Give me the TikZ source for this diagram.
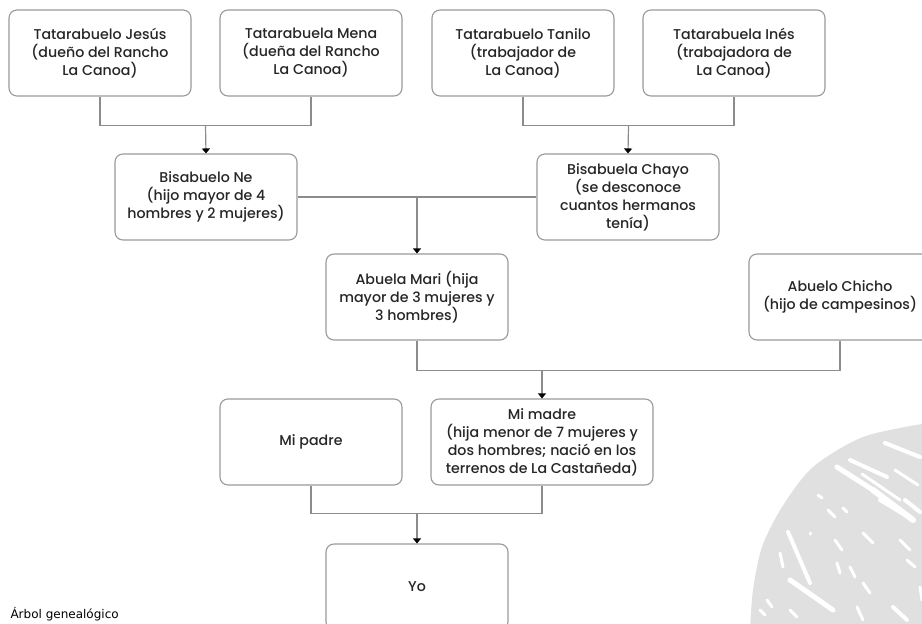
\documentclass[tikz,border=0pt]{standalone}
\usepackage{fontspec}
\setmainfont{Poppins}[UprightFont={* Medium}]
\newfontfamily\captionfont{DejaVu Sans}
\usetikzlibrary{arrows.meta, positioning, calc}
\definecolor{linegray}{HTML}{8C8C8C}
\definecolor{boxgray}{HTML}{9A9A9A}
\definecolor{inkgray}{HTML}{262626}
\definecolor{blobgray}{HTML}{E0E0E0}

\begin{document}
\begin{tikzpicture}[
    x=1pt, y=-1pt,
    every node/.style={font=\fontsize{14.2}{18}\selectfont, text=inkgray},
    person/.style={draw=boxgray, line width=1.1pt, rounded corners=8pt,
                   minimum width=182pt, minimum height=86pt, inner sep=2pt,
                   align=center, fill=white},
    link/.style={draw=linegray, line width=1.2pt},
    drop/.style={link, -{Triangle[width=8pt, length=5pt, color=black]}},
]
    \useasboundingbox (0,0) rectangle (922,624);
    \clip (0,0) rectangle (922,624);

    % faded stamp in the lower right corner
    \fill[blobgray] plot[smooth] coordinates {(750,630) (753,590) (762,547)
        (782,507) (813,467) (863,437) (922,424)} -- (930,630) -- cycle;
    \foreach \xa/\ya/\xb/\yb/\w in {885/443/920/457/4, 837/467/873/490/5,
        850/460/887/477/4, 873/490/913/520/6, 880/500/905/515/4,
        862/474/900/500/3, 895/470/918/485/3, 905/500/920/512/4,
        788/532/810/583/4, 780/553/783/567/3, 790/580/833/610/5,
        818/495/822/498/3, 828/510/835/517/3, 843/508/847/512/3,
        810/533/810/534/3, 835/540/842/550/3, 863/533/873/543/3,
        837/563/840/573/3, 850/567/855/577/3, 863/583/870/593/3,
        900/540/910/550/3, 907/560/915/567/3, 767/600/772/607/3,
        760/610/765/615/3, 790/610/797/617/3, 857/607/863/620/3,
        893/607/907/620/4, 920/587/922/600/3} {
        \draw[white, line width=\w pt, line cap=round] (\xa,\ya) -- (\xb,\yb);
    }

    % great-great-grandparents
    \node[person] (jesus)  at (100,53) {Tatarabuelo Jesús\\(dueño del Rancho\\La Canoa)};
    \node[person] (mena)   at (311,53) {Tatarabuela Mena\\(dueña del Rancho\\La Canoa)};
    \node[person] (tanilo) at (523,53) {Tatarabuelo Tanilo\\(trabajador de\\La Canoa)};
    \node[person] (ines)   at (734,53) {Tatarabuela Inés\\(trabajadora de\\La Canoa)};

    % great-grandparents
    \node[person] (ne)    at (206,197) {Bisabuelo Ne\\(hijo mayor de 4\\hombres y 2 mujeres)};
    \node[person] (chayo) at (628,197) {Bisabuela Chayo\\(se desconoce\\cuantos hermanos\\tenía)};

    % grandparents
    \node[person] (mari)   at (417,297) {Abuela Mari (hija\\mayor de 3 mujeres y\\3 hombres)};
    \node[person] (chicho) at (840,297) {Abuelo Chicho\\(hijo de campesinos)};

    % parents and me
    \node[person] (padre) at (311,442) {Mi padre};
    \node[person, minimum width=222pt] (madre) at (542,442)
        {Mi madre\\(hija menor de 7 mujeres y\\dos hombres; nació en los\\terrenos de La Castañeda)};
    \node[person] (yo) at (417,587) {Yo};

    \node[font=\captionfont\fontsize{12}{14}\selectfont, text=black,
          anchor=base west] (caption) at (7,618) {Árbol genealógico};

    % connectors
    \coordinate (jm) at ($(jesus.south)!.5!(mena.south)+(0,29)$);
    \draw[link] (jesus.south) -- ++(0,29) -| (mena.south);
    \draw[drop] (jm) -- (ne.north);

    \coordinate (ti) at ($(tanilo.south)!.5!(ines.south)+(0,29)$);
    \draw[link] (tanilo.south) -- ++(0,29) -| (ines.south);
    \draw[drop] (ti) -- (chayo.north);

    \draw[link] (ne.east) -- (chayo.west);
    \draw[drop] (ne.east -| mari.north) -- (mari.north);

    \coordinate (mc) at ($(mari.south)+(0,30)$);
    \draw[link] (mari.south) -- (mc) -| (chicho.south);
    \draw[drop] (mc -| madre.north) -- (madre.north);

    \coordinate (pm) at ($(padre.south)+(0,28)$);
    \draw[link] (padre.south) -- (pm) -| (madre.south);
    \draw[drop] (pm -| yo.north) -- (yo.north);
\end{tikzpicture}
\end{document}
